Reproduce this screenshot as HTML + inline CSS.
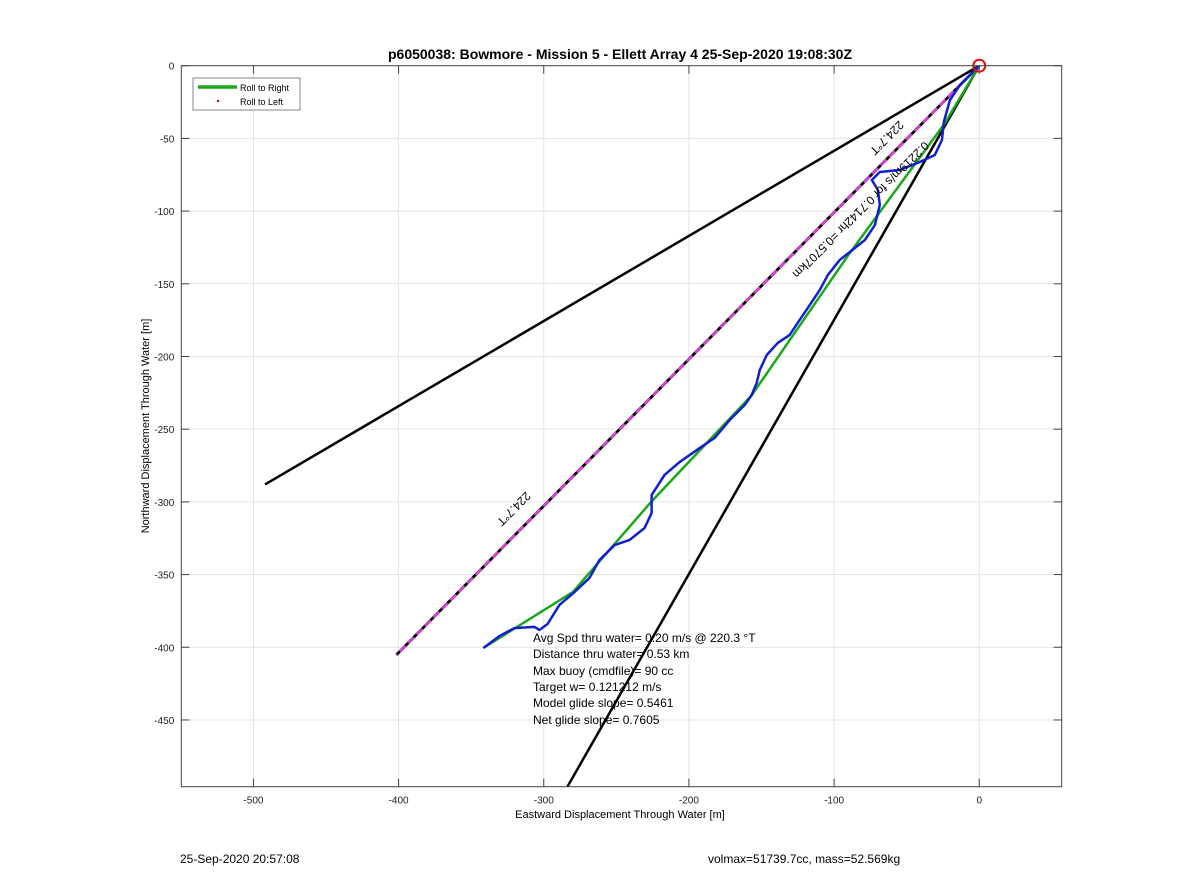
<!DOCTYPE html>
<html><head><meta charset="utf-8"><style>
body{margin:0;background:#fff;}
svg{display:block;font-family:"Liberation Sans",sans-serif;}
</style></head><body>
<svg id="chart" width="1200" height="885" viewBox="0 0 1200 885">
<rect width="1200" height="885" fill="#fff"/>
<text x="620" y="59" font-size="14" font-weight="bold" text-anchor="middle">p6050038: Bowmore - Mission 5 - Ellett Array 4 25-Sep-2020 19:08:30Z</text>
<g id="grid"></g>
<g id="ticks"></g>
<g id="marks"></g>
<rect x="181.3" y="65.7" width="880.4" height="721" fill="none" stroke="#444" stroke-width="1"/>
<text x="620" y="818" font-size="11" text-anchor="middle">Eastward Displacement Through Water [m]</text>
<text transform="translate(149,426) rotate(-90)" font-size="11" text-anchor="middle">Northward Displacement Through Water [m]</text>
<g>
<rect x="193" y="78" width="107" height="32" fill="#fff" stroke="#666" stroke-width="0.8"/>
<line x1="198" y1="87" x2="237" y2="87" stroke="#1aa81a" stroke-width="3.5"/>
<text x="240" y="91" font-size="9">Roll to Right</text>
<circle cx="218" cy="101" r="1.2" fill="#d00"/>
<text x="240" y="105" font-size="9">Roll to Left</text>
</g>
<g font-size="12">
<text x="533" y="642">Avg Spd thru water=  0.20 m/s @ 220.3 °T</text>
<text x="533" y="658">Distance thru water=  0.53 km</text>
<text x="533" y="675">Max buoy (cmdfile)= 90 cc</text>
<text x="533" y="691">Target w= 0.121212 m/s</text>
<text x="533" y="707">Model glide slope= 0.5461</text>
<text x="533" y="724">Net glide slope= 0.7605</text>
</g>
<text transform="translate(884,135) rotate(135)" font-size="12" text-anchor="middle">224.7°T</text>
<text transform="translate(858,207) rotate(135)" font-size="12" text-anchor="middle">0.2219m/s for 0.7142hr =0.5707km</text>
<text transform="translate(511,506) rotate(135)" font-size="12" text-anchor="middle">224.7°T</text>
<text x="180" y="863" font-size="12">25-Sep-2020 20:57:08</text>
<text x="708" y="863" font-size="12">volmax=51739.7cc, mass=52.569kg</text>
</svg>
<script>
const xTicks=[-500,-400,-300,-200,-100,0];
const yTicks=[0,-50,-100,-150,-200,-250,-300,-350,-400,-450];
const trackX=[-341.6,-330.6,-320.2,-306.4,-303.0,-297.4,-289.2,-278.8,-268.5,-261.6,-251.2,-240.9,-230.6,-225.7,-225.7,-216.8,-206.4,-192.6,-182.3,-171.9,-161.6,-156.8,-153.3,-151.2,-146.4,-138.8,-130.6,-123.7,-116.8,-109.9,-104.3,-96.1,-85.7,-78.8,-71.9,-68.5,-69.8,-74.0,-68.5,-54.7,-40.9,-30.6,-25.7,-24.4,-20.2,-13.3,-6.4,0];
const trackY=[-400.5,-392.3,-386.8,-386.0,-388.1,-384.0,-370.9,-362.0,-352.3,-340.0,-329.7,-326.2,-318.0,-307.7,-295.3,-281.5,-272.6,-263.0,-256.0,-243.7,-233.4,-226.5,-218.2,-209.3,-199.0,-190.7,-185.2,-174.9,-164.6,-154.3,-143.9,-133.6,-125.4,-119.9,-109.6,-95.8,-85.5,-78.6,-73.1,-71.7,-66.2,-61.4,-51.1,-38.7,-23.6,-13.3,-6.4,0];
const greenX=[-341.6,-280,-226,-157,-90,-24,0];
const greenY=[-400.5,-362,-300,-227,-130,-40,0];
const wedgeUpperEnd=[-492,-288];
const headingEnd=[-401.6,-405.3];
const wedgeLowerEnd=[-283.7,-495.9];
const X0=-549.7,X1=56.8,Y0=-495.9,Y1=0;
const PL=181.3,PR=1061.7,PT=65.7,PB=786.7;
const sx=v=>PL+(v-X0)/(X1-X0)*(PR-PL);
const sy=v=>PB-(v-Y0)/(Y1-Y0)*(PB-PT);
const NS='http://www.w3.org/2000/svg';
function mk(tag,attrs,parent){const e=document.createElementNS(NS,tag);for(const k in attrs)e.setAttribute(k,attrs[k]);parent.appendChild(e);return e;}
const grid=document.getElementById('grid'),ticks=document.getElementById('ticks'),marks=document.getElementById('marks');
xTicks.forEach(t=>{const x=sx(t);
const g=mk('line',{x1:x,y1:PT,x2:x,y2:PB,stroke:'#e3e3e3','stroke-width':1},grid);


mk('line',{x1:x,y1:PB,x2:x,y2:PB-8,stroke:'#444'},ticks);
mk('line',{x1:x,y1:PT,x2:x,y2:PT+8,stroke:'#444'},ticks);
const l=mk('text',{x:x,y:PB+17,'font-size':10,'text-anchor':'middle',fill:'#222'},ticks);l.textContent=t;

});
yTicks.forEach(t=>{const y=sy(t);
const g=mk('line',{x1:PL,y1:y,x2:PR,y2:y,stroke:'#e3e3e3','stroke-width':1},grid);


mk('line',{x1:PL,y1:y,x2:PL+8,y2:y,stroke:'#444'},ticks);
mk('line',{x1:PR,y1:y,x2:PR-8,y2:y,stroke:'#444'},ticks);
const l=mk('text',{x:PL-7,y:y+4,'font-size':10,'text-anchor':'end',fill:'#222'},ticks);l.textContent=t;

});
const clip=mk('clipPath',{id:'pc'},mk('defs',{},marks));mk('rect',{x:PL,y:PT,width:PR-PL,height:PB-PT},clip);
const mg=mk('g',{'clip-path':'url(#pc)'},marks);
function seg(e,name,attrs){const l=mk('line',Object.assign({x1:sx(0),y1:sy(0),x2:sx(e[0]),y2:sy(e[1])},attrs),mg);

return l;}
seg(wedgeUpperEnd,'wedge-upper-line',{stroke:'#000','stroke-width':2.5});
seg(wedgeLowerEnd,'wedge-lower-line',{stroke:'#000','stroke-width':2.5});
seg(headingEnd,'heading-line',{stroke:'#000','stroke-width':2.8});
seg(headingEnd,'heading-line-dashed',{stroke:'#e03ce0','stroke-width':2.4,'stroke-dasharray':'8 4'});
const gp=mk('polyline',{points:greenX.map((v,i)=>sx(v)+','+sy(greenY[i])).join(' '),fill:'none',stroke:'#1aa81a','stroke-width':2.5},mg);


const tp=mk('polyline',{points:trackX.map((v,i)=>sx(v)+','+sy(trackY[i])).join(' '),fill:'none',stroke:'#1020d0','stroke-width':2.5,'stroke-linejoin':'round'},mg);


const c=mk('circle',{cx:sx(0),cy:sy(0),r:6,fill:'none',stroke:'#e01010','stroke-width':2},marks);


</script>
</body></html>
